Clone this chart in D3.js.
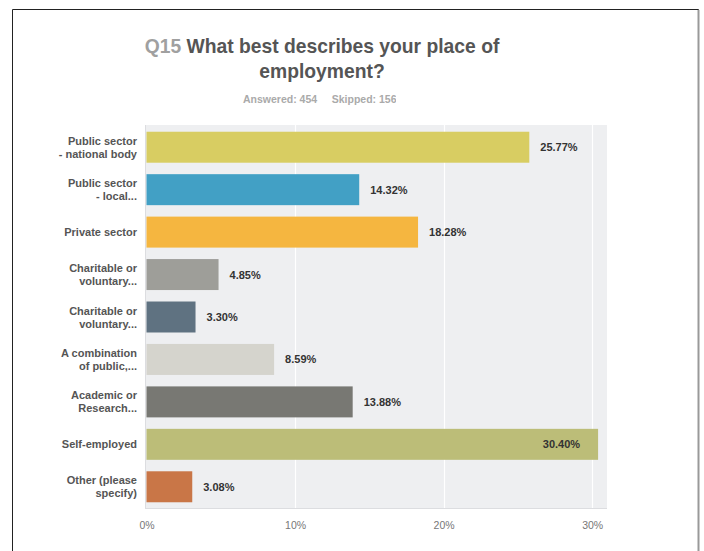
<!DOCTYPE html>
<html><head><meta charset="utf-8">
<script src="https://cdn.jsdelivr.net/npm/d3@7"></script>
<style>body{margin:0;background:#fff;}svg{display:block;font-family:"Liberation Sans",Arial,sans-serif;}</style>
</head><body>
<svg id="c" width="704" height="551"></svg>
<script>
const categories = [
  ["Public sector", "- national body"],
  ["Public sector", "- local..."],
  ["Private sector"],
  ["Charitable or", "voluntary..."],
  ["Charitable or", "voluntary..."],
  ["A combination", "of public,..."],
  ["Academic or", "Research..."],
  ["Self-employed"],
  ["Other (please", "specify)"]
];
const values = [25.77, 14.32, 18.28, 4.85, 3.30, 8.59, 13.88, 30.40, 3.08];
const colors = ["#d8cd62", "#42a0c5", "#f5b640", "#9e9e99", "#5f7281", "#d5d4cd", "#787873", "#bcbd78", "#c97647"];
const ticks = [0, 10, 20, 30];

const svg = d3.select("#c");
// frame
svg.append("path").attr("d", "M12.5,551 V9.5 H698.5 V551").attr("fill", "none").attr("stroke", "#222").attr("stroke-width", 1);
svg.append("line").attr("x1", 698.5).attr("x2", 698.5).attr("y1", 10).attr("y2", 551).attr("stroke", "#999").attr("stroke-width", 2);

// title
const t = svg.append("text").attr("x", 322).attr("y", 53).attr("text-anchor", "middle")
  .attr("font-size", 19.3).attr("font-weight", "bold");
t.append("tspan").attr("fill", "#a0a0a0").text("Q15 ");
t.append("tspan").attr("fill", "#555").text("What best describes your place of");
svg.append("text").attr("x", 322).attr("y", 78).attr("text-anchor", "middle")
  .attr("font-size", 19.3).attr("font-weight", "bold").attr("fill", "#555").text("employment?");
svg.append("clipPath").attr("id", "sc").append("rect").attr("x", 200).attr("y", 85).attr("width", 196).attr("height", 25);
svg.append("text").attr("clip-path", "url(#sc)").attr("x", 243).attr("y", 103)
  .attr("font-size", 10.5).attr("font-weight", "bold").attr("fill", "#aaa")
  .attr("xml:space", "preserve").text("Answered: 454     Skipped: 156");

const x = d3.scaleLinear().domain([0, 31]).range([146.5, 607]);
const y = d3.scaleBand().domain(d3.range(categories.length)).range([126, 508]).paddingInner(0.27).paddingOuter(0.135);

svg.append("rect").attr("x", 145).attr("y", 125).attr("width", 607 - 145).attr("height", 508 - 125).attr("fill", "#eeeff1");
svg.append("line").attr("x1", 145).attr("x2", 607).attr("y1", 508.5).attr("y2", 508.5).attr("stroke", "#dcdde0");
svg.append("line").attr("x1", 145.5).attr("x2", 145.5).attr("y1", 125).attr("y2", 508).attr("stroke", "#dcdde0");

const xAxis = d3.axisBottom(x).tickValues(ticks).tickFormat(d => d + "%").tickSize(0);
svg.append("g").selectAll("line").data(ticks.slice(1)).join("line")
  .attr("x1", d => Math.round(x(d)) + 0.5).attr("x2", d => Math.round(x(d)) + 0.5)
  .attr("y1", 125).attr("y2", 508).attr("stroke", "#fff").attr("stroke-width", 1.2);

const ax = svg.append("g").attr("transform", "translate(0,519)").call(xAxis);
ax.select(".domain").remove();
ax.selectAll("text").attr("font-size", 10.5).attr("fill", "#777").attr("font-family", "Liberation Sans, Arial, sans-serif");

svg.append("g").selectAll("rect").data(values).join("rect")
  .attr("x", x(0)).attr("y", (d, i) => y(i)).attr("width", d => x(d) - x(0)).attr("height", y.bandwidth())
  .attr("fill", (d, i) => colors[i]);

svg.append("g").selectAll("text").data(values).join("text")
  .attr("x", d => d > 28 ? x(d) - 18 : x(d) + 11)
  .attr("text-anchor", d => d > 28 ? "end" : "start")
  .attr("y", (d, i) => y(i) + y.bandwidth() / 2 + 4)
  .attr("font-size", 11).attr("font-weight", "bold").attr("fill", "#333")
  .text(d => d.toFixed(2) + "%");

const lab = svg.append("g").selectAll("text").data(categories).join("text")
  .attr("text-anchor", "end").attr("font-size", 11).attr("font-weight", "bold").attr("fill", "#555")
  .attr("transform", (d, i) => `translate(137,${y(i) + y.bandwidth() / 2 + 4 - (d.length - 1) * 6.5})`);
lab.selectAll("tspan").data(d => d).join("tspan").attr("x", 0).attr("dy", (d, i) => i ? 13 : 0).text(d => d);
</script>
</body></html>
